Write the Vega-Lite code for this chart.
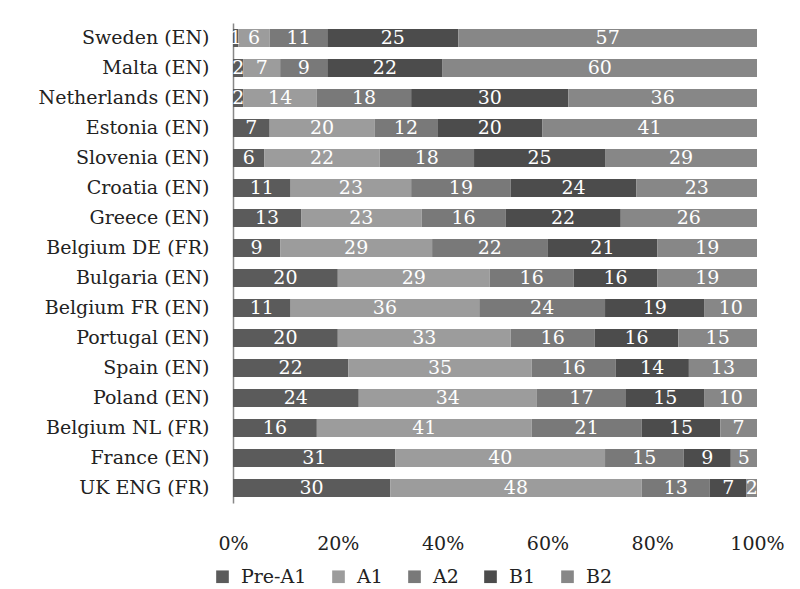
{
  "$schema": "https://vega.github.io/schema/vega-lite/v6.json",
  "autosize": "none",
  "width": 524,
  "height": 480,
  "padding": {"left": 233, "top": 23, "right": 43, "bottom": 86},
  "background": "white",
  "config": {
    "view": {"stroke": null},
    "font": "DejaVu Serif"
  },
  "data": {
    "values": [
      {"country": "Sweden (EN)", "Pre-A1": 1, "A1": 6, "A2": 11, "B1": 25, "B2": 57},
      {"country": "Malta (EN)", "Pre-A1": 2, "A1": 7, "A2": 9, "B1": 22, "B2": 60},
      {"country": "Netherlands (EN)", "Pre-A1": 2, "A1": 14, "A2": 18, "B1": 30, "B2": 36},
      {"country": "Estonia (EN)", "Pre-A1": 7, "A1": 20, "A2": 12, "B1": 20, "B2": 41},
      {"country": "Slovenia (EN)", "Pre-A1": 6, "A1": 22, "A2": 18, "B1": 25, "B2": 29},
      {"country": "Croatia (EN)", "Pre-A1": 11, "A1": 23, "A2": 19, "B1": 24, "B2": 23},
      {"country": "Greece (EN)", "Pre-A1": 13, "A1": 23, "A2": 16, "B1": 22, "B2": 26},
      {"country": "Belgium DE (FR)", "Pre-A1": 9, "A1": 29, "A2": 22, "B1": 21, "B2": 19},
      {"country": "Bulgaria (EN)", "Pre-A1": 20, "A1": 29, "A2": 16, "B1": 16, "B2": 19},
      {"country": "Belgium FR (EN)", "Pre-A1": 11, "A1": 36, "A2": 24, "B1": 19, "B2": 10},
      {"country": "Portugal (EN)", "Pre-A1": 20, "A1": 33, "A2": 16, "B1": 16, "B2": 15},
      {"country": "Spain (EN)", "Pre-A1": 22, "A1": 35, "A2": 16, "B1": 14, "B2": 13},
      {"country": "Poland (EN)", "Pre-A1": 24, "A1": 34, "A2": 17, "B1": 15, "B2": 10},
      {"country": "Belgium NL (FR)", "Pre-A1": 16, "A1": 41, "A2": 21, "B1": 15, "B2": 7},
      {"country": "France (EN)", "Pre-A1": 31, "A1": 40, "A2": 15, "B1": 9, "B2": 5},
      {"country": "UK ENG (FR)", "Pre-A1": 30, "A1": 48, "A2": 13, "B1": 7, "B2": 2}
    ]
  },
  "transform": [
    {"fold": ["Pre-A1", "A1", "A2", "B1", "B2"], "as": ["level", "value"]},
    {"calculate": "indexof(['Pre-A1','A1','A2','B1','B2'], datum.level)", "as": "ord"},
    {"stack": "value", "groupby": ["country"], "sort": [{"field": "ord", "order": "ascending"}], "offset": "normalize", "as": ["x0", "x1"]},
    {"calculate": "(datum.x0 + datum.x1) / 2", "as": "xm"}
  ],
  "encoding": {
    "y": {
      "field": "country",
      "type": "nominal",
      "sort": ["Sweden (EN)", "Malta (EN)", "Netherlands (EN)", "Estonia (EN)", "Slovenia (EN)", "Croatia (EN)", "Greece (EN)", "Belgium DE (FR)", "Bulgaria (EN)", "Belgium FR (EN)", "Portugal (EN)", "Spain (EN)", "Poland (EN)", "Belgium NL (FR)", "France (EN)", "UK ENG (FR)"],
      "scale": {"paddingInner": 0.4, "paddingOuter": 0.2},
      "axis": {
        "title": null,
        "ticks": false,
        "domain": true,
        "domainColor": "#888888",
        "domainWidth": 1.5,
        "labelFont": "DejaVu Serif",
        "labelFontSize": 19,
        "labelColor": "#222222",
        "labelPadding": 24
      }
    }
  },
  "layer": [
    {
      "mark": {"type": "bar"},
      "encoding": {
        "x": {
          "field": "x0",
          "type": "quantitative",
          "scale": {"domain": [0, 1]},
          "axis": {
            "title": null,
            "format": ".0%",
            "values": [0, 0.2, 0.4, 0.6, 0.8, 1],
            "grid": false,
            "ticks": false,
            "domain": false,
            "labelFlush": false,
            "labelFont": "DejaVu Serif",
            "labelFontSize": 19,
            "labelColor": "#222222",
            "labelPadding": 31
          }
        },
        "x2": {"field": "x1"},
        "color": {
          "field": "level",
          "type": "nominal",
          "sort": ["Pre-A1", "A1", "A2", "B1", "B2"],
          "scale": {
            "domain": ["Pre-A1", "A1", "A2", "B1", "B2"],
            "range": ["#5b5b5b", "#9c9c9c", "#797979", "#4c4c4c", "#878787"]
          },
          "legend": {
            "title": null,
            "orient": "none",
            "direction": "horizontal",
            "legendX": -20,
            "legendY": 544,
            "symbolType": "square",
            "symbolSize": 160,
            "symbolStrokeWidth": 0,
            "labelFont": "DejaVu Serif",
            "labelFontSize": 19,
            "labelColor": "#222222",
            "columnPadding": 22,
            "labelOffset": 9
          }
        }
      }
    },
    {
      "mark": {"type": "text", "color": "white", "fontSize": 19, "font": "DejaVu Serif", "baseline": "middle", "align": "center"},
      "encoding": {
        "x": {"field": "xm", "type": "quantitative"},
        "text": {"field": "value", "type": "quantitative"}
      }
    }
  ]
}
